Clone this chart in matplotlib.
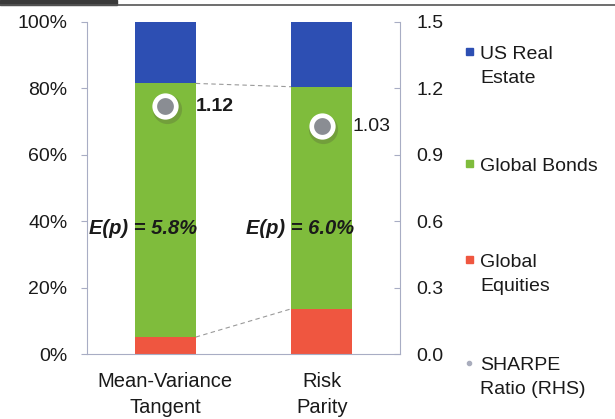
import matplotlib.pyplot as plt
import matplotlib.patches as mpatches
from matplotlib.lines import Line2D
import numpy as np

plt.rcParams['font.family'] = ['Liberation Sans', 'DejaVu Sans']

# data
categories = ['Mean-Variance\nTangent', 'Risk\nParity']
equities = [5.1, 13.6]
bonds = [76.4, 66.9]
real_estate = [18.5, 19.5]
sharpe = [1.12, 1.03]
sharpe_labels = ['1.12', '1.03']
exp_return = ['E(p) = 5.8%', 'E(p) = 6.0%']
exp_y = 37.7

legend_labels = ['US Real\nEstate', 'Global Bonds', 'Global\nEquities', 'SHARPE\nRatio (RHS)']
legend_rows = [45, 157, 253, 356]  # cap-top of first line, px from top

c_eq, c_bd, c_re = '#ef5640', '#7fbc3c', '#2d4fb3'
c_sh = '#a9adbd'
axis_col = '#a8adc4'
FS = 14

fig = plt.figure(figsize=(6.15, 4.19), dpi=100)
W, H = 615, 419
ax = fig.add_axes([87/W, 1-354/H, 313/W, 332/H])
x = np.arange(len(categories))
w = 0.39

ax.bar(x, equities, w, color=c_eq, zorder=2)
ax.bar(x, bonds, w, bottom=equities, color=c_bd, zorder=2)
bot2 = np.array(equities) + np.array(bonds)
ax.bar(x, real_estate, w, bottom=bot2, color=c_re, zorder=2)

# dashed connectors between segment boundaries
for lvl in [np.array(equities), bot2]:
    ax.plot([x[0] + w/2, x[1] - w/2], lvl, ls=(0, (4, 3)), color='#9a9a9a', lw=0.8, zorder=1)

for i, t in enumerate(exp_return):
    ax.text(x[i] - 0.14, exp_y, t, ha='center', va='center', fontsize=14.5,
            fontweight='bold', style='italic', color='#1a1a1a', zorder=4)

ax.set_xlim(-0.5, 1.5)
ax.set_ylim(0, 100)
ax.set_yticks(np.arange(0, 101, 20))
ax.set_yticklabels([f'{v}%' for v in range(0, 101, 20)])
ax.set_xticks(x)
ax.set_xticklabels(categories, fontsize=14.5, linespacing=1.45)
ax.tick_params(axis='x', length=0, pad=13, colors='#1a1a1a')
ax.tick_params(axis='y', length=4, pad=10, labelsize=FS, colors=axis_col, labelcolor='#1a1a1a', direction='out')
for s in ['top', 'right']:
    ax.spines[s].set_visible(False)
for s in ['left', 'bottom']:
    ax.spines[s].set_color(axis_col)
    ax.spines[s].set_linewidth(0.8)

ax2 = ax.twinx()
ax2.set_ylim(0, 1.5)
ax2.set_yticks(np.arange(0, 1.51, 0.3))
ax2.set_yticklabels([f'{v:.1f}' for v in np.arange(0, 1.51, 0.3)])
ax2.tick_params(axis='y', length=4, pad=12, labelsize=FS, colors=axis_col, labelcolor='#1a1a1a', direction='in')
for s in ['top', 'left', 'bottom']:
    ax2.spines[s].set_visible(False)
ax2.spines['right'].set_color(axis_col)
ax2.spines['right'].set_linewidth(0.8)

# sharpe markers with soft shadow
ax2.plot(x + 0.01, np.array(sharpe) - 0.012, 'o', ms=21, color='#5a6a3a', alpha=0.35, mew=0, zorder=5)
ax2.plot(x, sharpe, 'o', ms=15.5, mfc='#8a8d93', mec='white', mew=3.4, zorder=6)
for i, lab in enumerate(sharpe_labels):
    ax2.annotate(lab, (x[i], sharpe[i]), xytext=(22, 0), textcoords='offset points',
                 ha='left', va='center', fontsize=FS, color='#1a1a1a',
                 fontweight='bold' if i == 0 else 'normal')

# legend laid out by hand so the key sits on the first text line
cap = 0.716 * FS * 100 / 72
gap = 24
for lab, top, col in zip(legend_labels, legend_rows, [c_re, c_bd, c_eq, c_sh]):
    for j, line in enumerate(lab.split('\n')):
        base = top + cap + j * gap
        fig.text(480/W, 1-base/H, line, fontsize=FS, color='#1a1a1a', va='baseline', ha='left')
    cy = top + cap/2
    if col == c_sh:
        fig.lines.append(Line2D([469/W], [1-cy/H], transform=fig.transFigure, marker='o',
                                ms=3, color=col, ls='none'))
    else:
        fig.patches.append(mpatches.Rectangle((466/W, 1-(cy+3.5)/H), 7/W, 7/H,
                                              transform=fig.transFigure, color=col))

# scan artefacts at top
fig.patches.append(mpatches.Rectangle((0, 1-5/H), 117/W, 5/H, transform=fig.transFigure,
                                      color='#3a3a3a', zorder=0))
fig.lines.append(Line2D([0, 1], [1-5/H, 1-5/H], transform=fig.transFigure, color='#555555', lw=1.2))

fig.savefig('out.png', dpi=100)
